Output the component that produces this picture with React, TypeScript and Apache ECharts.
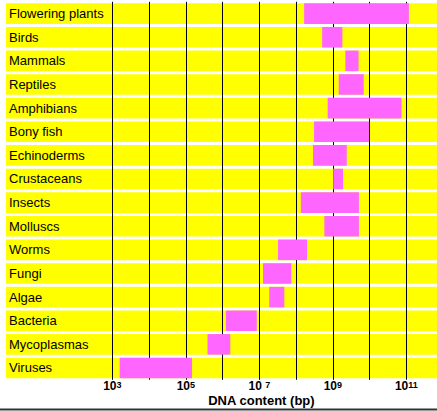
import React, { useEffect, useRef } from "react";
import * as echarts from "echarts";

const categories = [
  "Flowering plants", "Birds", "Mammals", "Reptiles", "Amphibians", "Bony fish",
  "Echinoderms", "Crustaceans", "Insects", "Molluscs", "Worms", "Fungi",
  "Algae", "Bacteria", "Mycoplasmas", "Viruses",
];
// log10 of DNA content (bp): lower and upper ends of each range
const lowExp = [8.22, 8.71, 9.34, 9.16, 8.86, 8.49, 8.46, 9.01, 8.13, 8.77, 7.51, 7.10, 7.27, 6.09, 5.59, 3.20];
const highExp = [11.07, 9.26, 9.70, 9.84, 10.87, 9.99, 9.38, 9.28, 9.71, 9.71, 8.30, 7.87, 7.68, 6.93, 6.21, 5.17];
const tickExps = [3, 5, 7, 9, 11];
const gridExps = [3, 4, 5, 6, 7, 8, 9, 10, 11];

const FONT = "Liberation Sans, Arial, sans-serif";

export default function App() {
  const ref = useRef<HTMLDivElement>(null);
  useEffect(() => {
    document.body.style.margin = "0";
    const chart = echarts.init(ref.current!, null, { renderer: "svg" });
    chart.setOption({
      animation: false,
      grid: { left: 6, right: 0, top: 1.8, bottom: 31.2, containLabel: false },
      xAxis: {
        type: "value",
        min: 0.107,
        max: 11.835,
        splitLine: { show: false },
        axisLine: { show: false },
        axisTick: { show: false },
        axisLabel: {
          customValues: tickExps,
          margin: 0.5,
          formatter: (v: number) => (v === 7 ? `{a|10 }{s|${v}}` : `{a|10}{s|${v}}`),
          rich: {
            a: { fontSize: 12, fontWeight: "bold", color: "#000", fontFamily: FONT, lineHeight: 12 },
            s: { fontSize: 9, fontWeight: "bold", color: "#000", fontFamily: FONT, verticalAlign: "top", lineHeight: 10 },
          },
        },
      },
      yAxis: {
        type: "category",
        data: categories,
        inverse: true,
        z: 10,
        axisLine: { show: false },
        axisTick: { show: false },
        splitLine: { show: false },
        axisLabel: {
          inside: true,
          margin: 3,
          fontSize: 13,
          color: "#000",
          fontFamily: FONT,
        },
      },
      series: [
        {
          type: "bar",
          stack: "r",
          z: 1,
          barCategoryGap: "13%",
          data: lowExp,
          itemStyle: { color: "rgba(0,0,0,0)" },
          showBackground: true,
          backgroundStyle: { color: "#ffff00", opacity: 1 },
          silent: true,
          markLine: {
            z: 2,
            silent: true,
            symbol: "none",
            label: { show: false },
            lineStyle: { color: "#000", width: 1, type: "solid" },
            data: gridExps.map((e) => ({ xAxis: e })),
          },
        },
        {
          type: "bar",
          stack: "r",
          z: 3,
          barCategoryGap: "13%",
          data: highExp.map((h, i) => +(h - lowExp[i]).toFixed(3)),
          itemStyle: { color: "#ff66ff" },
          silent: true,
        },
      ],
      graphic: [
        {
          type: "text",
          left: 261.7 - 53.5,
          top: 393.5,
          style: { text: "DNA content (bp)", font: `bold 13px ${FONT}`, fill: "#000", lineHeight: 11 },
        },
        {
          type: "line",
          shape: { x1: 0, y1: 409.5, x2: 437, y2: 409.5 },
          style: { stroke: "#333", lineWidth: 2 },
        },
      ],
    });
    return () => chart.dispose();
  }, []);
  return <div ref={ref} style={{ width: 437, height: 411 }} />;
}
